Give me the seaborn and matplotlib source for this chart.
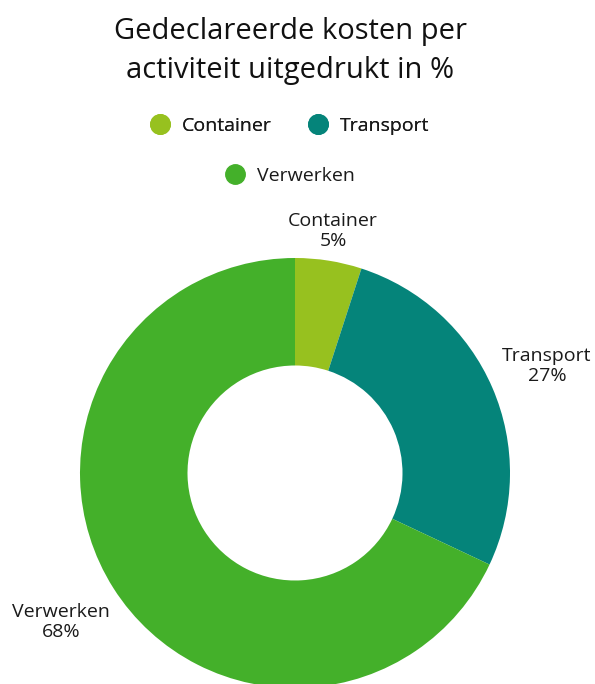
import matplotlib
matplotlib.use("Agg")
import matplotlib.pyplot as plt
import seaborn as sns
from matplotlib.lines import Line2D

categories = ["Container", "Transport", "Verwerken"]
values = [5, 27, 68]
colors = ["#97C11F", "#05847A", "#44B02A"]
title = "Gedeclareerde kosten per\nactiviteit uitgedrukt in %"

sns.set_theme(style="white")
plt.rcParams["font.family"] = ["Open Sans", "DejaVu Sans"]

W, H = 595, 684
fig = plt.figure(figsize=(W / 100, H / 100), dpi=100)
ax = fig.add_axes([0, 0, 1, 1])
ax.axis("off")

cx, cy, R = 295, 473, 215
wedges, _ = ax.pie(values, colors=colors, startangle=90, counterclock=False,
                   radius=1, wedgeprops=dict(width=0.5, linewidth=0))
ax.set_aspect("auto")
ax.set_xlim(-cx / R, (W - cx) / R)
ax.set_ylim(-(H - cy) / R, cy / R)

def px(x, y):
    return ((x - cx) / R, (cy - y) / R)

label_pos = [(333, 231), (547, 366), (61, 622)]
for cat, v, (lx, ly) in zip(categories, values, label_pos):
    ax.text(*px(lx, ly), f"{cat}\n{v}%", ha="center", va="center",
            fontsize=14, color="#1a1a1a", linespacing=1.2)

fig.text(290 / W, 1 - 51 / H, title, ha="center", va="center",
         fontsize=21, color="#111111", linespacing=1.45)

def handle(c):
    return Line2D([], [], marker="o", linestyle="", markersize=14,
                  markerfacecolor=c, markeredgecolor=c)

leg1 = fig.legend([handle(colors[0]), handle(colors[1])], categories[:2],
                  loc="center", bbox_to_anchor=(290 / W, 1 - 126 / H), ncol=2,
                  frameon=False, fontsize=14, handletextpad=0.6,
                  columnspacing=1.9, handlelength=1.0, labelcolor="#1a1a1a")
leg2 = fig.legend([handle(colors[2])], categories[2:],
                  loc="center", bbox_to_anchor=(290 / W, 1 - 176 / H),
                  frameon=False, fontsize=14, handletextpad=0.6,
                  handlelength=1.0, labelcolor="#1a1a1a")
fig.add_artist(leg1)

fig.savefig("out.png", dpi=100, facecolor="white")
